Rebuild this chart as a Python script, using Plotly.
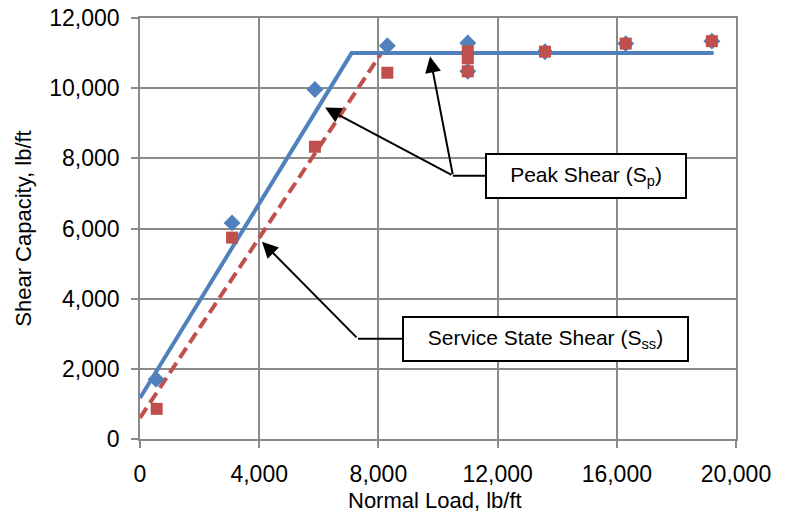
import plotly.graph_objects as go

# ---- data ----
peak_x = [540, 3090, 5870, 8300, 11000, 11000, 13590, 16300, 19190]
peak_y = [1700, 6160, 9960, 11210, 11290, 10480, 11040, 11270, 11340]

service_x = [560, 3090, 5870, 8300, 11000, 11000, 11000, 13590, 16300, 19190]
service_y = [860, 5740, 8330, 10440, 11050, 10850, 10480, 11040, 11270, 11340]

peak_fit_x = [0, 7100, 19250]
peak_fit_y = [1170, 11000, 11000]

service_fit_x = [0, 8100]
service_fit_y = [600, 11000]

x_ticks = [0, 4000, 8000, 12000, 16000, 20000]
y_ticks = [0, 2000, 4000, 6000, 8000, 10000, 12000]

BLUE = "#4F81BD"
RED = "#C0504D"
GRID = "#8a8a8a"
FONT = "Liberation Sans, Arial, Helvetica, sans-serif"
TXT = "#000"

fig = go.Figure()

fig.add_trace(go.Scatter(x=service_fit_x, y=service_fit_y, mode="lines",
                         line=dict(color=RED, width=4, dash="12px,6px"),
                         showlegend=False, hoverinfo="skip"))
fig.add_trace(go.Scatter(x=peak_fit_x, y=peak_fit_y, mode="lines",
                         line=dict(color=BLUE, width=4),
                         showlegend=False, hoverinfo="skip"))
fig.add_trace(go.Scatter(x=peak_x, y=peak_y, mode="markers",
                         marker=dict(symbol="diamond", size=13, color=BLUE,
                                     line=dict(width=0)),
                         showlegend=False))
fig.add_trace(go.Scatter(x=service_x, y=service_y, mode="markers",
                         marker=dict(symbol="square", size=12, color=RED,
                                     line=dict(width=0)),
                         showlegend=False))

# ---- annotation boxes ----
fig.add_annotation(x=14966, y=7505, xref="x", yref="y",
                   text="Peak Shear (S<sub>p</sub>)", showarrow=False,
                   font=dict(family=FONT, size=21, color=TXT),
                   bordercolor="black", borderwidth=2, borderpad=0,
                   bgcolor="white", width=198, height=42)
fig.add_annotation(x=13607, y=2854, xref="x", yref="y",
                   text="Service State Shear (S<sub>ss</sub>)", showarrow=False,
                   font=dict(family=FONT, size=21, color=TXT),
                   bordercolor="black", borderwidth=2, borderpad=0,
                   bgcolor="white", width=283, height=42)

# connector lines
fig.add_shape(type="line", x0=10503, y0=7505, x1=11577, y1=7505,
              xref="x", yref="y", line=dict(color="black", width=2))
fig.add_shape(type="line", x0=7315, y0=2854, x1=8792, y1=2854,
              xref="x", yref="y", line=dict(color="black", width=2))

# arrows
arrows = [
    (6208, 9446, 10503, 7505),
    (9732, 10901, 10503, 7505),
    (4094, 5622, 7315, 2854),
]
for tx, ty, sx, sy in arrows:
    fig.add_annotation(x=tx, y=ty, ax=sx, ay=sy, xref="x", yref="y",
                       axref="x", ayref="y", text="", showarrow=True,
                       arrowhead=2, arrowsize=1.6, arrowwidth=2,
                       arrowcolor="black", standoff=0)

# x-axis title
fig.add_annotation(x=0.495, y=-0.146, xref="paper", yref="paper",
                   text="Normal Load, lb/ft", showarrow=False,
                   xanchor="center", yanchor="middle",
                   font=dict(family=FONT, size=22, color=TXT))

fig.update_xaxes(range=[0, 20000], tickvals=x_ticks,
                 ticktext=[f"{v:,}" for v in x_ticks],
                 showgrid=True, gridcolor=GRID, gridwidth=1.5,
                 showline=True, linecolor=GRID, linewidth=1.5, mirror=True,
                 ticks="outside", ticklen=7, tickcolor=GRID, tickwidth=1.5,
                 zeroline=False, automargin=False, ticklabelstandoff=7,
                 tickfont=dict(family=FONT, size=23, color=TXT))
fig.update_yaxes(range=[0, 12000], tickvals=y_ticks,
                 ticktext=[f"{v:,}" for v in y_ticks],
                 showgrid=True, gridcolor=GRID, gridwidth=1.5,
                 showline=True, linecolor=GRID, linewidth=1.5, mirror=True,
                 ticks="outside", ticklen=7, tickcolor=GRID, tickwidth=1.5,
                 zeroline=False, automargin=False, ticklabelstandoff=7,
                 tickfont=dict(family=FONT, size=23, color=TXT),
                 title=dict(text="Shear Capacity, lb/ft",
                            font=dict(family=FONT, size=22, color=TXT),
                            standoff=12))

fig.update_layout(width=788, height=515,
                  margin=dict(l=140, r=52, t=18, b=76),
                  plot_bgcolor="white", paper_bgcolor="white",
                  showlegend=False)

fig.write_html("out.html", config={"displayModeBar": False},
               post_script="document.body.style.margin='0px';"
                           "document.body.style.overflow='hidden';")
